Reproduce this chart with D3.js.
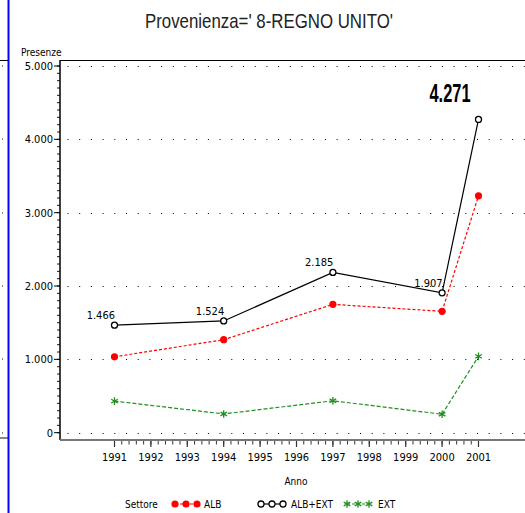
<!DOCTYPE html>
<html>
<head>
<meta charset="utf-8">
<script src="https://cdn.jsdelivr.net/npm/d3@7"></script>
<style>
  body { margin: 0; background: #fff; }
  svg { display: block; }
  text { font-family: "DejaVu Sans Condensed", "Liberation Sans", sans-serif; fill: #000; }
</style>
</head>
<body>
<svg id="chart"></svg>
<script>
var years = [1991, 1994, 1997, 2000, 2001];
var albExt = [1466, 1524, 2185, 1907, 4271];
var alb = [1035, 1268, 1750, 1655, 3230];
var ext = [431, 256, 435, 252, 1041];
var yTicks = [0, 1000, 2000, 3000, 4000, 5000];
var yearTicks = d3.range(1991, 2002);
var pointLabels = ["1.466", "1.524", "2.185", "1.907", "4.271"];
var seriesNames = ["ALB", "ALB+EXT", "EXT"];

var w = 525, h = 513;
var RED = "#ff0000", GREEN = "#1f8f1f", BLACK = "#000";

var svg = d3.select("#chart").attr("width", w).attr("height", h);

var x = d3.scaleLinear().domain([1991, 2001]).range([114.5, 478.5]);
var y = d3.scaleLinear().domain([0, 5000]).range([432.7, 66]);

function fmt(v) { return d3.format(",")(v).replace(/,/g, "."); }

// left strip (cut off panel)
svg.append("line").attr("x1", 0).attr("x2", 8).attr("y1", 60.5).attr("y2", 60.5)
  .attr("stroke", BLACK);
svg.append("line").attr("x1", 0).attr("x2", 8).attr("y1", 438).attr("y2", 438)
  .attr("stroke", "#888").attr("stroke-width", 2);
yTicks.forEach(function(t) {
  svg.append("rect").attr("x", 2).attr("y", Math.round(y(t)) - 0.5).attr("width", 1).attr("height", 1)
    .attr("fill", BLACK);
});
svg.append("line").attr("x1", 8.5).attr("x2", 8.5).attr("y1", 0).attr("y2", h)
  .attr("stroke", "#0000ff").attr("stroke-width", 2);

// title
svg.append("text").attr("x", 145).attr("y", 28)
  .attr("textLength", 248).attr("lengthAdjust", "spacingAndGlyphs")
  .style("font-family", "'Liberation Sans', sans-serif")
  .style("font-size", "21px").style("fill", "#222")
  .text("Provenienza=' 8-REGNO UNITO'");

// grid
svg.selectAll(".grid").data(yTicks).enter().append("line")
  .attr("class", "grid")
  .attr("x1", 67.5).attr("x2", w)
  .attr("y1", function(d) { return Math.round(y(d)) + 0.5; })
  .attr("y2", function(d) { return Math.round(y(d)) + 0.5; })
  .attr("stroke", BLACK).attr("stroke-width", 1)
  .attr("stroke-dasharray", "1,10.7");

// frame top
svg.append("line").attr("x1", 60).attr("x2", w).attr("y1", 60.5).attr("y2", 60.5)
  .attr("stroke", BLACK).attr("stroke-width", 1.2);

// y axis
var yAxis = svg.append("g").attr("transform", "translate(60,0)");
yAxis.append("line").attr("x1", 0).attr("x2", 0).attr("y1", 60).attr("y2", 440)
  .attr("stroke", BLACK).attr("stroke-width", 1.5);
yAxis.selectAll(".minor").data(d3.range(0, 5001, 100)).enter().append("line")
  .attr("x1", -3).attr("x2", 0)
  .attr("y1", function(d) { return y(d); }).attr("y2", function(d) { return y(d); })
  .attr("stroke", BLACK).attr("stroke-width", 0.9);
yAxis.selectAll(".major").data(yTicks).enter().append("line")
  .attr("x1", -6).attr("x2", 0)
  .attr("y1", function(d) { return y(d); }).attr("y2", function(d) { return y(d); })
  .attr("stroke", BLACK).attr("stroke-width", 1);
yAxis.selectAll(".lab").data(yTicks).enter().append("text")
  .attr("x", -7).attr("y", function(d) { return y(d) + 4; })
  .attr("text-anchor", "end").style("font-size", "11px")
  .text(function(d) { return fmt(d); });
svg.append("text").attr("x", 21).attr("y", 56).style("font-size", "10px").text("Presenze");

// x axis
var xAxis = svg.append("g");
xAxis.append("line").attr("x1", 60).attr("x2", w).attr("y1", 440).attr("y2", 440)
  .attr("stroke", "#777").attr("stroke-width", 2);
xAxis.selectAll(".minor").data(d3.range(1991, 2001.01, 0.2)).enter().append("line")
  .attr("x1", function(d) { return x(d); }).attr("x2", function(d) { return x(d); })
  .attr("y1", 441).attr("y2", 444.5)
  .attr("stroke", "#333").attr("stroke-width", 1);
xAxis.selectAll(".major").data(yearTicks).enter().append("line")
  .attr("x1", function(d) { return x(d); }).attr("x2", function(d) { return x(d); })
  .attr("y1", 441).attr("y2", 447)
  .attr("stroke", "#333").attr("stroke-width", 1.2);
xAxis.selectAll(".lab").data(yearTicks).enter().append("text")
  .attr("x", function(d) { return x(d); }).attr("y", 461)
  .attr("text-anchor", "middle").style("font-size", "11px")
  .text(function(d) { return d; });
svg.append("text").attr("x", 296).attr("y", 485).attr("text-anchor", "middle")
  .style("font-size", "10px").text("Anno");

// series
function pts(vals) { return years.map(function(yr, i) { return [yr, vals[i]]; }); }
var line = d3.line().x(function(d) { return x(d[0]); }).y(function(d) { return y(d[1]); });

svg.append("path").datum(pts(ext)).attr("d", line)
  .attr("fill", "none").attr("stroke", GREEN).attr("stroke-width", 1.2).attr("stroke-dasharray", "4,2");
svg.append("path").datum(pts(alb)).attr("d", line)
  .attr("fill", "none").attr("stroke", RED).attr("stroke-width", 1.2).attr("stroke-dasharray", "3,2");
svg.append("path").datum(pts(albExt)).attr("d", line)
  .attr("fill", "none").attr("stroke", BLACK).attr("stroke-width", 1.2);

var star = d3.symbol().type(d3.symbolAsterisk).size(40);

function drawRed(sel) {
  sel.append("circle").attr("r", 3.6).attr("fill", RED);
}
function drawCircle(sel) {
  sel.append("circle").attr("r", 3).attr("fill", "#fff").attr("stroke", BLACK).attr("stroke-width", 1.3);
}
function drawStar(sel) {
  sel.append("path").attr("d", star).attr("fill", "none").attr("stroke", GREEN).attr("stroke-width", 1.3);
}

svg.selectAll(".ptExt").data(pts(ext)).enter().append("g")
  .attr("transform", function(d) { return "translate(" + x(d[0]) + "," + y(d[1]) + ")"; })
  .call(drawStar);
svg.selectAll(".ptAlb").data(pts(alb)).enter().append("g")
  .attr("transform", function(d) { return "translate(" + x(d[0]) + "," + y(d[1]) + ")"; })
  .call(drawRed);
svg.selectAll(".ptTot").data(pts(albExt)).enter().append("g")
  .attr("transform", function(d) { return "translate(" + x(d[0]) + "," + y(d[1]) + ")"; })
  .call(drawCircle);

// point labels
pointLabels.forEach(function(lab, i) {
  var last = i === pointLabels.length - 1;
  var t = svg.append("text").text(lab);
  if (last) {
    t.attr("x", x(years[i]) - 49).attr("y", y(albExt[i]) - 17)
      .attr("textLength", 41).attr("lengthAdjust", "spacingAndGlyphs")
      .style("font-family", "'Liberation Sans', sans-serif")
      .style("font-size", "25px").style("font-weight", "bold");
  } else {
    t.attr("text-anchor", "end").attr("x", x(years[i]) + 0.5).attr("y", y(albExt[i]) - 6)
      .style("font-size", "11px");
  }
});

// legend
var ly = 504;
svg.append("text").attr("x", 125).attr("y", ly + 4).style("font-size", "10px").text("Settore");
var legendItems = [
  { name: seriesNames[0], x0: 175, color: RED, dash: "3,2", draw: drawRed, tx: 204 },
  { name: seriesNames[1], x0: 261, color: BLACK, dash: null, draw: drawCircle, tx: 291 },
  { name: seriesNames[2], x0: 347, color: GREEN, dash: "3,2", draw: drawStar, tx: 378 }
];
legendItems.forEach(function(it) {
  var g = svg.append("g");
  g.append("line").attr("x1", it.x0).attr("x2", it.x0 + 22).attr("y1", ly).attr("y2", ly)
    .attr("stroke", it.color).attr("stroke-width", 1.2).attr("stroke-dasharray", it.dash);
  [0, 11, 22].forEach(function(dx) {
    g.append("g").attr("transform", "translate(" + (it.x0 + dx) + "," + ly + ")").call(it.draw);
  });
  svg.append("text").attr("x", it.tx).attr("y", ly + 4).style("font-size", "10px").text(it.name);
});
</script>
</body>
</html>
